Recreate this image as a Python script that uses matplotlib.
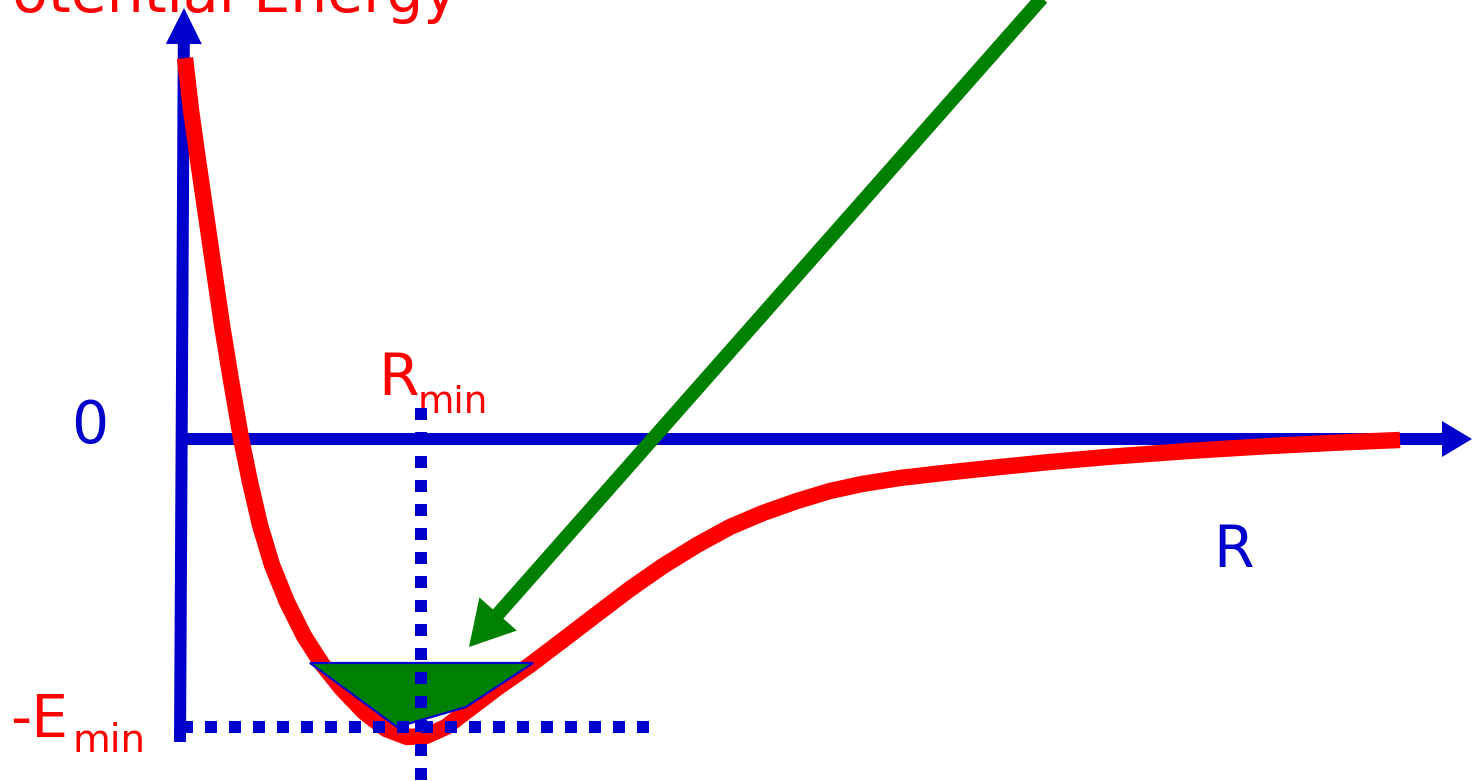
import matplotlib
matplotlib.use("Agg")
import matplotlib.pyplot as plt
from matplotlib.patches import Polygon, FancyArrow

plt.rcParams["font.family"] = ["DejaVu Sans"]

RED = "#FF0000"
BLUE = "#0000CC"
GREEN = "#008000"

# potential energy curve (R to the right, E upward, arbitrary units)
r_curve = [2, 8, 15, 23, 31, 39, 48, 58, 67, 77, 89, 104, 121, 139, 159, 181,
           203, 224, 243, 263, 281, 297, 314, 347, 380, 414, 447, 480, 514, 547,
           580, 614, 647, 679, 717, 760, 817, 867, 924, 1005, 1087, 1168, 1217]
e_curve = [381, 329, 279, 224, 169, 114, 59, 1, -43, -86, -126, -163, -197, -225,
           -250, -273, -290, -298, -297, -288, -274, -262, -249, -226, -201, -175,
           -150, -127, -106, -88, -74, -62, -52, -45, -39, -34, -28, -23, -18,
           -12, -7, -3, -1]

# marked values
r_min = 238
e_min = -288

# green well (vibrational level band)
well_r = [127, 350, 283, 214]
well_e = [-224, -224, -268, -288]

# pointer arrow: tail -> tip
pointer_tail = (859, 441)
pointer_tip = (286, -208)


def main():
    fig = plt.figure(figsize=(14.72, 7.81), dpi=100)
    ax = fig.add_axes([0, 0, 1, 1])
    ax.set_xlim(-183, 1289)
    ax.set_ylim(-342, 439)
    ax.axis("off")

    # axes drawn as arrows
    ax.add_patch(FancyArrow(-3, -303, 4, 734, width=12, head_width=36, head_length=36,
                            length_includes_head=True, color=BLUE, lw=0, zorder=1))
    ax.add_patch(FancyArrow(0, 0, 1289, 0, width=12, head_width=36, head_length=30,
                            length_includes_head=True, color=BLUE, lw=0, zorder=1))

    ax.plot(r_curve, e_curve, color=RED, lw=11.8, solid_capstyle="butt",
            solid_joinstyle="round", zorder=2)

    ax.add_patch(Polygon(list(zip(well_r, well_e)), closed=True, facecolor=GREEN,
                         edgecolor=BLUE, lw=1.6, zorder=3))

    ax.plot([-2, 466], [e_min, e_min], color=BLUE, lw=8.64, dashes=(1, 1),
            dash_capstyle="butt", zorder=4)
    ax.plot([r_min, r_min], [31, -342], color=BLUE, lw=8.64, dashes=(1, 1),
            dash_capstyle="butt", zorder=4)

    dx = pointer_tip[0] - pointer_tail[0]
    dy = pointer_tip[1] - pointer_tail[1]
    ax.add_patch(FancyArrow(pointer_tail[0], pointer_tail[1], dx, dy, width=14,
                            head_width=50, head_length=44, length_includes_head=True,
                            color=GREEN, lw=0, zorder=5))

    # labels
    ax.text(275, 427, "Potential Energy", color=RED, fontsize=42, ha="right",
            va="baseline")
    ax.text(-93, -4, "0", color=BLUE, fontsize=42, ha="center", va="baseline")
    ax.text(195, 44, "R", color=RED, fontsize=42, ha="left", va="baseline")
    ax.text(235, 26, "min", color=RED, fontsize=27, ha="left", va="baseline")
    ax.text(-173, -298, "-E", color=RED, fontsize=42, ha="left", va="baseline")
    ax.text(-111, -313, "min", color=RED, fontsize=28, ha="left", va="baseline")
    ax.text(1030, -128, "R", color=BLUE, fontsize=42, ha="left", va="baseline")

    fig.savefig("out.png", dpi=100)
    plt.close(fig)


if __name__ == "__main__":
    main()
